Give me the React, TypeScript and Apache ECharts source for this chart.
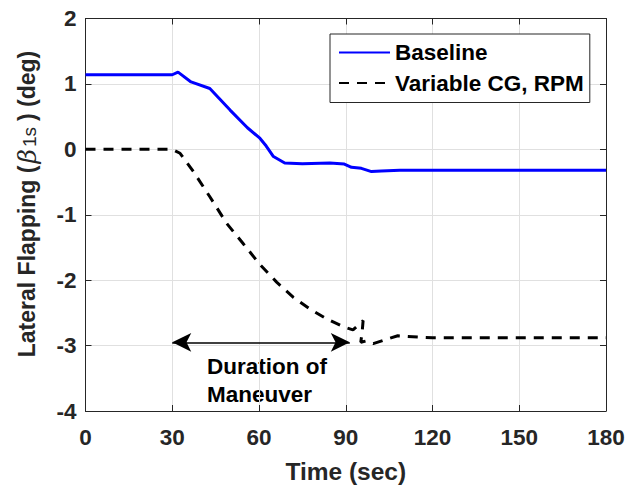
import React, { useEffect, useRef } from "react";
import * as echarts from "echarts";

const xTicks = [0, 30, 60, 90, 120, 150, 180];
const yTicks = [-4, -3, -2, -1, 0, 1, 2];

const baselineTime = [0, 30, 32, 36.5, 43, 50, 56, 60.3, 62.5, 65, 68.9, 75, 84.5, 89.5, 92, 95.4, 98.9, 102.3, 108.7, 180];
const baselineVal = [1.14, 1.14, 1.18, 1.03, 0.93, 0.6, 0.33, 0.17, 0.05, -0.11, -0.21, -0.22, -0.21, -0.225, -0.275, -0.29, -0.34, -0.33, -0.32, -0.32];

const variableTime = [0, 30, 32.7, 37.3, 43, 48.8, 54.5, 60.3, 66.1, 71.8, 77.6, 83.3, 89.1, 92.5, 94, 96, 95.7, 95.2, 97, 99.5, 103, 108, 115, 120, 180];
const variableVal = [0, 0, -0.06, -0.34, -0.725, -1.13, -1.44, -1.76, -2.03, -2.26, -2.44, -2.59, -2.71, -2.76, -2.7, -2.62, -2.78, -2.95, -2.93, -2.97, -2.92, -2.85, -2.87, -2.88, -2.88];

const seriesNames = ["Baseline", "Variable CG, RPM"];
const arrowStart = [30, -2.95];
const arrowEnd = [91.4, -2.95];
const annotation = "Duration of\nManeuver";

const FONT = "'Liberation Sans', Arial, Helvetica, sans-serif";

export default function App() {
  const ref = useRef<HTMLDivElement>(null);
  useEffect(() => {
    if (!ref.current) return;
    const chart = echarts.init(ref.current, undefined, { renderer: "svg" });
    const axisLineStyle = { color: "#262626", width: 1 };
    const baseX = {
      type: "value" as const,
      min: xTicks[0],
      max: xTicks[xTicks.length - 1],
      interval: 30,
      axisLine: { show: true, onZero: false, lineStyle: axisLineStyle },
      axisTick: { show: true, inside: true, length: 6, lineStyle: axisLineStyle },
    };
    const baseY = {
      type: "value" as const,
      min: yTicks[0],
      max: yTicks[yTicks.length - 1],
      interval: 1,
      axisLine: { show: true, onZero: false, lineStyle: axisLineStyle },
      axisTick: { show: true, inside: true, length: 6, lineStyle: axisLineStyle },
    };
    chart.setOption({
      animation: false,
      backgroundColor: "#fff",
      grid: { left: 85.5, right: 23, top: 18.5, bottom: 78, containLabel: false },
      xAxis: [
        {
          ...baseX,
          position: "bottom",
          splitLine: { show: true, lineStyle: { color: "#e0e0e0", width: 1 } },
          axisLabel: { fontSize: 22.5, fontWeight: "bold", color: "#262626", fontFamily: FONT, margin: 15 },
          name: "Time (sec)",
          nameLocation: "middle",
          nameGap: 48,
          nameTextStyle: { fontSize: 24.5, fontWeight: "bold", color: "#262626", fontFamily: FONT },
        },
        { ...baseX, position: "top", splitLine: { show: false }, axisLabel: { show: false } },
      ],
      yAxis: [
        {
          ...baseY,
          position: "left",
          splitLine: { show: true, lineStyle: { color: "#e0e0e0", width: 1 } },
          axisLabel: { fontSize: 22.5, fontWeight: "bold", color: "#262626", fontFamily: FONT, margin: 9 },
        },
        { ...baseY, position: "right", splitLine: { show: false }, axisLabel: { show: false } },
      ],
      legend: {
        orient: "vertical",
        left: 330,
        top: 34,
        padding: [7, 6, 8, 8],
        itemGap: 7.5,
        itemWidth: 51,
        itemHeight: 14,
        itemStyle: { opacity: 0 },
        borderColor: "#262626",
        borderWidth: 1,
        borderRadius: 0,
        backgroundColor: "#fff",
        textStyle: { fontSize: 22.5, fontWeight: "bold", color: "#000", fontFamily: FONT },
        data: seriesNames,
      },
      series: [
        {
          name: seriesNames[0],
          type: "line",
          symbol: "none",
          color: "#0000ff",
          lineStyle: { color: "#0000ff", width: 3 },
          data: baselineTime.map((t, i) => [t, baselineVal[i]]),
          z: 3,
        },
        {
          name: seriesNames[1],
          type: "line",
          symbol: "none",
          color: "#000",
          lineStyle: { color: "#000", width: 3, type: [10, 8] },
          data: variableTime.map((t, i) => [t, variableVal[i]]),
          z: 3,
          markLine: {
            silent: true,
            symbol: ["arrow", "arrow"],
            symbolSize: [14, 19],
            label: { show: false },
            lineStyle: { type: "solid", color: "#000", width: 1.5 },
            data: [[{ coord: arrowStart }, { coord: arrowEnd }]],
          },
        },
      ],
      graphic: [
        {
          type: "text",
          left: 207,
          top: 352,
          style: {
            text: annotation,
            font: `bold 22.5px ${FONT}`,
            lineHeight: 28.5,
            fill: "#000",
          },
        },
        {
          type: "text",
          x: 27,
          y: 204,
          rotation: Math.PI / 2,
          style: {
            text: "{a|Lateral Flapping (}{b|β}{s|1s}{a|) (deg)}",
            align: "center",
            verticalAlign: "middle",
            rich: {
              a: { fontSize: 23, fontWeight: "bold", fontFamily: FONT, fill: "#262626", verticalAlign: "middle", lineHeight: 24 },
              b: { fontSize: 25, fontStyle: "italic", fontWeight: "normal", fontFamily: "'DejaVu Serif', 'Liberation Serif', serif", fill: "#262626", verticalAlign: "middle", lineHeight: 24, padding: [0, 1, 0, 2] },
              s: { fontSize: 19, fontWeight: "normal", fontFamily: FONT, fill: "#262626", verticalAlign: "bottom", lineHeight: 19, padding: [27, 6, 0, 1] },
            },
          },
        },
      ],
    });
    return () => chart.dispose();
  }, []);
  return <div ref={ref} style={{ position: "fixed", left: 0, top: 0, width: 629, height: 489 }} />;
}
